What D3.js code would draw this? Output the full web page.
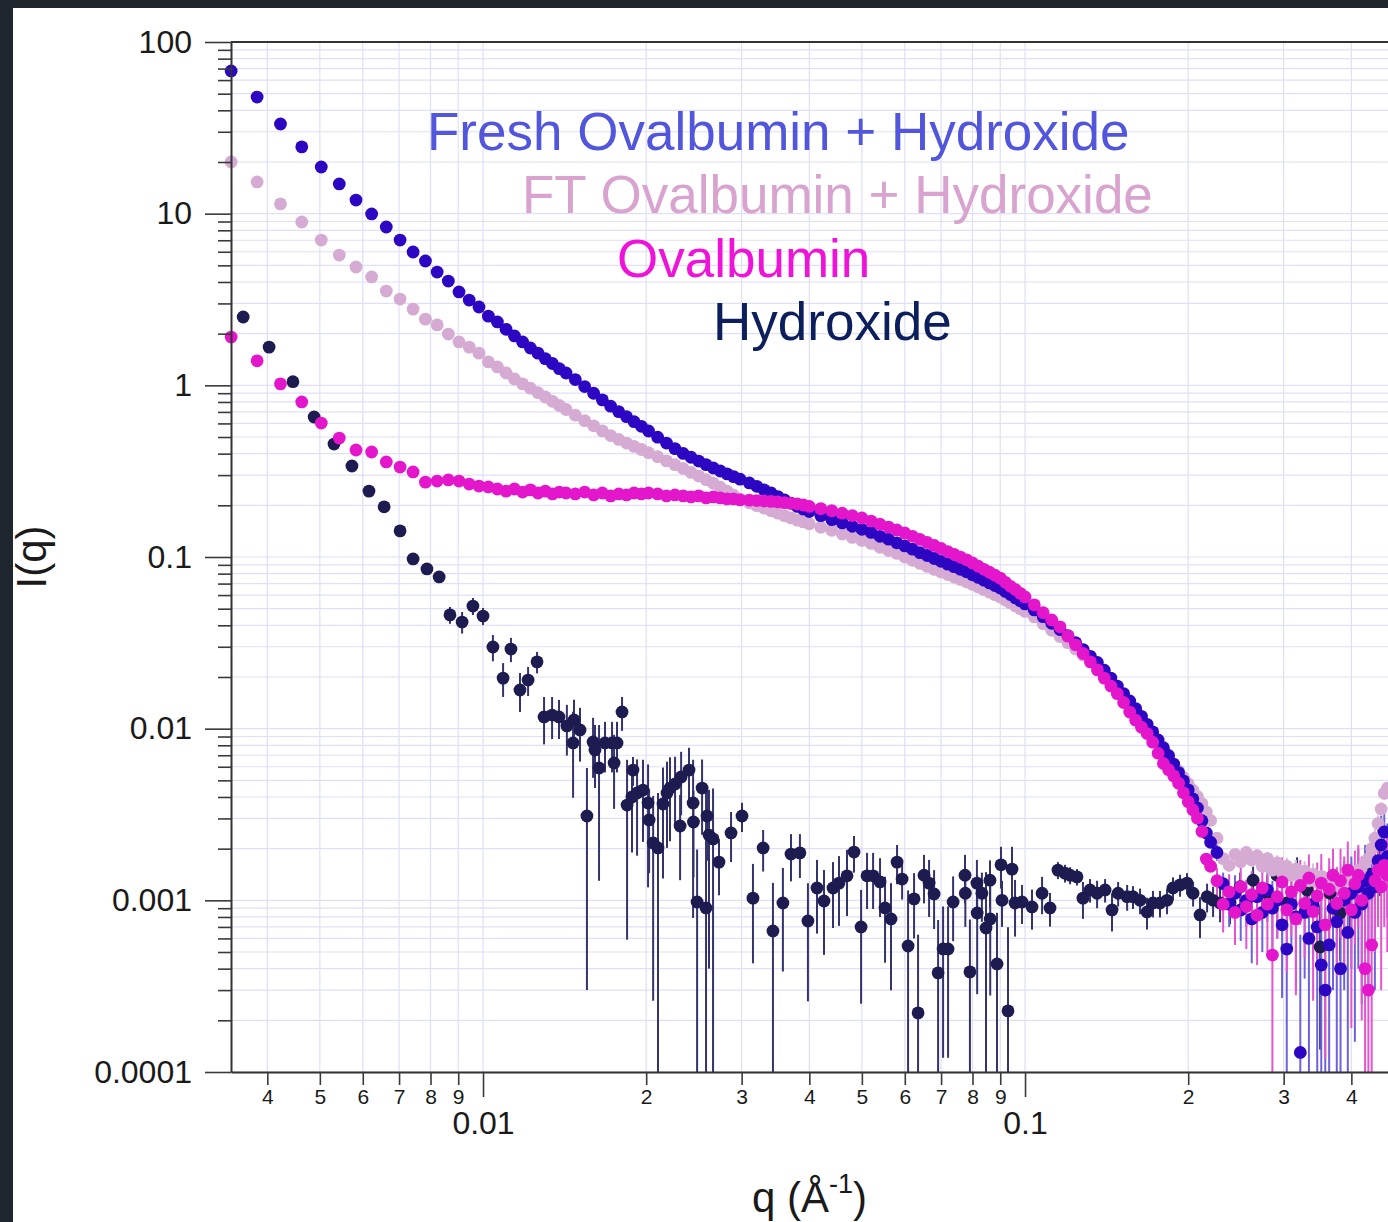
<!DOCTYPE html>
<html>
<head>
<meta charset="utf-8">
<script src="https://cdn.jsdelivr.net/npm/d3@7"></script>
<style>
  body { margin: 0; background: #1f262e; }
  svg { display: block; }
</style>
</head>
<body>
<svg id="chart" width="1388" height="1222"></svg>
<script>
// q grid shared by the three protein curves (1/Angstrom)
const qGrid = [
  0.00343, 0.00383, 0.00423, 0.00463, 0.00503, 0.00543, 0.00583, 0.00623, 0.00663, 0.00703,
  0.00743, 0.00783, 0.00823, 0.00863, 0.00903, 0.00943, 0.00983, 0.01023, 0.01063, 0.01103,
  0.01143, 0.01183, 0.01223, 0.01263, 0.01303, 0.01343, 0.01383, 0.01423,
  0.0148, 0.0154, 0.0160, 0.0166, 0.0172, 0.0178, 0.0184, 0.0190, 0.0196, 0.0202,
  0.0210, 0.0218, 0.0226, 0.0234, 0.0242, 0.0250, 0.0258, 0.0266, 0.0274, 0.0282, 0.0290, 0.0298,
  0.031, 0.032, 0.033, 0.034, 0.035, 0.036, 0.037, 0.038, 0.039, 0.040,
  0.042, 0.044, 0.046, 0.048, 0.050, 0.052, 0.054, 0.056, 0.058, 0.060,
  0.062, 0.064, 0.066, 0.068, 0.070, 0.072, 0.074, 0.076, 0.078, 0.080,
  0.082, 0.084, 0.086, 0.088, 0.090, 0.092, 0.094, 0.096, 0.098, 0.100,
  0.104, 0.108, 0.112, 0.116, 0.120, 0.124, 0.128, 0.132, 0.136, 0.140,
  0.144, 0.148, 0.152, 0.156, 0.160, 0.164, 0.168, 0.172, 0.176, 0.180,
  0.184, 0.188, 0.192, 0.196, 0.200, 0.204, 0.208, 0.212, 0.216, 0.220,
  0.226, 0.232, 0.238, 0.244, 0.250, 0.256, 0.262, 0.268, 0.274, 0.280,
  0.286, 0.292, 0.298, 0.304, 0.310, 0.316, 0.322, 0.328, 0.334, 0.340,
  0.346, 0.352, 0.358, 0.364, 0.370, 0.376, 0.382, 0.388, 0.394, 0.400,
  0.406, 0.412, 0.418, 0.424, 0.430, 0.436, 0.442, 0.448, 0.454, 0.460, 0.466
];

const freshI = [
  67.8, 47.8, 33.3, 24.5, 18.7, 14.9, 12.0, 9.96, 8.36, 7.02,
  5.98, 5.30, 4.57, 4.05, 3.50, 3.14, 2.86, 2.53, 2.34, 2.12,
  1.94, 1.79, 1.65, 1.54, 1.43, 1.34, 1.25, 1.18,
  1.08, 0.984, 0.899, 0.823, 0.756, 0.702, 0.657, 0.614, 0.577, 0.542,
  0.499, 0.461, 0.428, 0.401, 0.381, 0.362, 0.345, 0.330, 0.317, 0.305, 0.294, 0.284,
  0.270, 0.258, 0.246, 0.236, 0.225, 0.215, 0.206, 0.197, 0.190, 0.184,
  0.174, 0.165, 0.158, 0.151, 0.145, 0.139, 0.132, 0.127, 0.121, 0.116,
  0.111, 0.106, 0.102, 0.0980, 0.0944, 0.0909, 0.0878, 0.0848, 0.0820, 0.0788,
  0.0760, 0.0733, 0.0707, 0.0682, 0.0659, 0.0630, 0.0604, 0.0578, 0.0556, 0.0533,
  0.0492, 0.0449, 0.0411, 0.0378, 0.0348, 0.0317, 0.0289, 0.0264, 0.0243, 0.0219,
  0.0197, 0.0177, 0.0160, 0.0145, 0.0131, 0.0118, 0.0106, 0.00959, 0.00860, 0.00775,
  0.00698, 0.00622, 0.00555, 0.00497, 0.00440, 0.00390, 0.00345, 0.00291, 0.00247, 0.00218,
  0.0019, 0.00125, 0.00095, 0.0011, 0.00088, 0.001, 0.00078, 0.00105, 0.00085, 0.00115,
  0.0009, 0.001, 0.00072, 0.00052, 0.00095, 0.0008, 0.00013, 0.00085, 0.0006, 0.00095,
  0.0007, 0.00042, 0.0003, 0.00055, 0.0009, 0.00075, 0.0004, 0.001, 0.00065, 0.0011,
  0.00085, 0.0012, 0.00095, 0.0013, 0.0011, 0.0014, 0.0012, 0.0017, 0.0021, 0.0025, 0.0018
];

const ftI = [
  20.0, 15.3, 11.4, 8.94, 7.02, 5.74, 4.89, 4.28, 3.54, 3.18,
  2.78, 2.43, 2.25, 1.99, 1.79, 1.67, 1.54, 1.37, 1.28, 1.18,
  1.09, 1.02, 0.962, 0.906, 0.855, 0.807, 0.763, 0.723,
  0.670, 0.623, 0.581, 0.543, 0.510, 0.484, 0.461, 0.441, 0.423, 0.405,
  0.384, 0.363, 0.345, 0.328, 0.311, 0.296, 0.282, 0.269, 0.255, 0.242, 0.229, 0.218,
  0.207, 0.199, 0.193, 0.186, 0.180, 0.174, 0.169, 0.164, 0.160, 0.156,
  0.149, 0.143, 0.136, 0.130, 0.125, 0.120, 0.114, 0.109, 0.105, 0.100,
  0.0957, 0.0917, 0.0881, 0.0846, 0.0817, 0.0790, 0.0764, 0.0740, 0.0717, 0.0692,
  0.0668, 0.0645, 0.0624, 0.0603, 0.0584, 0.0561, 0.0540, 0.0519, 0.0500, 0.0482,
  0.0448, 0.0409, 0.0374, 0.0344, 0.0317, 0.0291, 0.0268, 0.0248, 0.0229, 0.0208,
  0.0187, 0.0169, 0.0153, 0.0139, 0.0126, 0.0113, 0.0102, 0.00918, 0.00829, 0.00751,
  0.00684, 0.00623, 0.00568, 0.00521, 0.00478, 0.00438, 0.00403, 0.00366, 0.00327, 0.00292,
  0.0023, 0.00175, 0.0016, 0.00185, 0.00168, 0.0019, 0.00172, 0.00182, 0.00158, 0.00175,
  0.0015, 0.00165, 0.00145, 0.00158, 0.0014, 0.00152, 0.00135, 0.00148, 0.0013, 0.00142,
  0.00128, 0.00138, 0.00125, 0.00135, 0.00122, 0.00132, 0.0012, 0.00135, 0.00128, 0.0014,
  0.00135, 0.0015, 0.00145, 0.00165, 0.00175, 0.002, 0.0023, 0.0028, 0.0034, 0.0042, 0.0045
];

const ovaI = [
  1.91, 1.39, 1.02, 0.800, 0.603, 0.493, 0.420, 0.409, 0.358, 0.334,
  0.313, 0.273, 0.277, 0.281, 0.277, 0.266, 0.259, 0.256, 0.249, 0.242,
  0.249, 0.239, 0.246, 0.236, 0.242, 0.233, 0.239, 0.236,
  0.233, 0.239, 0.230, 0.236, 0.227, 0.233, 0.230, 0.236, 0.233, 0.236,
  0.233, 0.227, 0.230, 0.227, 0.224, 0.227, 0.221, 0.224, 0.221, 0.218, 0.218, 0.215,
  0.2145, 0.2131, 0.2120, 0.2106, 0.2094, 0.2071, 0.2052, 0.2036, 0.2009, 0.1971,
  0.1914, 0.1859, 0.1800, 0.1743, 0.1687, 0.1620, 0.1553, 0.1493, 0.1438, 0.1380,
  0.1320, 0.1265, 0.1215, 0.1167, 0.1121, 0.1076, 0.1037, 0.0999, 0.0963, 0.0923,
  0.0884, 0.0848, 0.0815, 0.0783, 0.0753, 0.0712, 0.0675, 0.0646, 0.0614, 0.0585,
  0.0526, 0.0474, 0.0430, 0.0392, 0.0346, 0.0308, 0.0274, 0.0245, 0.0220, 0.0197,
  0.0177, 0.0160, 0.0142, 0.0125, 0.0112, 0.0102, 0.00936, 0.00834, 0.00720, 0.00627,
  0.00577, 0.00531, 0.00481, 0.00423, 0.00375, 0.00337, 0.00301, 0.00252, 0.00174, 0.00158,
  0.0013, 0.00095, 0.00112, 0.00085, 0.0012, 0.00092, 0.00108, 0.00082, 0.00118, 0.00095,
  0.00048, 0.00105, 0.00128, 0.00088, 0.00112, 0.00078, 0.00122, 0.00096, 0.00135, 0.00086,
  0.00106, 0.00126, 0.00072, 0.00116, 0.0014, 0.00096, 0.0013, 0.0011, 0.0015, 0.00088,
  0.00125, 0.0014, 0.001, 0.0004, 0.0003, 0.00055, 0.0013, 0.0015, 0.0012, 0.0016, 0.0014
];

// uncertainties of the last points of each protein curve (the noisy tail)
const freshTailErr = [
  0.0002, 0.0002, 0.00025, 0.0003, 0.0003, 0.0003, 0.00035, 0.0003, 0.00035, 0.0004,
  0.0004, 0.0004, 0.00045, 0.0005, 0.00045, 0.0005, 0.0005, 0.0005, 0.0006, 0.0005,
  0.0006, 0.0006, 0.0006, 0.0006, 0.0006, 0.0007, 0.0006, 0.0007, 0.0007, 0.0007,
  0.0007, 0.0008, 0.0007, 0.0008, 0.0008, 0.0008, 0.0009, 0.0009, 0.001, 0.001, 0.001
];
const ftTailErr = [
  0.00012, 0.00012, 0.00013, 0.00014, 0.00014, 0.00015, 0.00015, 0.00016, 0.00016, 0.00017,
  0.00017, 0.00018, 0.00018, 0.00019, 0.00019, 0.0002, 0.0002, 0.00021, 0.00021, 0.00022,
  0.00022, 0.00023, 0.00023, 0.00024, 0.00024, 0.00025, 0.00025, 0.00026, 0.00026, 0.00027,
  0.00027, 0.00028, 0.00028, 0.00029, 0.0003, 0.0003, 0.00031, 0.00032, 0.00033, 0.00034, 0.00035
];
const ovaTailErr = [
  0.00025, 0.0003, 0.0003, 0.0003, 0.00035, 0.0004, 0.0004, 0.0004, 0.0004, 0.00045,
  0.0004, 0.00045, 0.0005, 0.0005, 0.0005, 0.0005, 0.0005, 0.0005, 0.0005, 0.0006,
  0.0006, 0.0006, 0.0006, 0.0006, 0.0006, 0.0006, 0.0007, 0.0007, 0.0007, 0.0007,
  0.0007, 0.0007, 0.0008, 0.0009, 0.0009, 0.0009, 0.0008, 0.0008, 0.0009, 0.0009, 0.0009
];

// hydroxide only (own q grid, with error bars)
const hydroxideQ = [
  0.00361, 0.00403, 0.00446, 0.00488, 0.00531, 0.00573, 0.00616, 0.00657, 0.00703, 0.00743,
  0.00788, 0.00830, 0.00869, 0.00915, 0.00958, 0.0100, 0.01043, 0.01089, 0.01126, 0.01170,
  0.01211, 0.01258, 0.01296, 0.01341, 0.01381, 0.01428, 0.01466, 0.01472, 0.01510, 0.01555,
  0.01596, 0.01609, 0.01637, 0.01679, 0.01730, 0.01745, 0.01767, 0.01805, 0.01844, 0.01883,
  0.01891, 0.01924, 0.01973, 0.02016, 0.02025, 0.02060, 0.02103, 0.02148, 0.02185, 0.02213,
  0.02261, 0.02310, 0.02320, 0.02399, 0.02441, 0.02445, 0.02483, 0.02536, 0.02579, 0.02590,
  0.02612, 0.02657, 0.02725, 0.02868, 0.03005, 0.03148, 0.03287, 0.03427, 0.03575, 0.03700,
  0.03843, 0.03976, 0.04132, 0.04257, 0.04423, 0.04537, 0.04694, 0.04836, 0.04983, 0.05111,
  0.05244, 0.05401, 0.05517, 0.05659, 0.05806, 0.05932, 0.06084, 0.06241, 0.06348, 0.06511,
  0.06652, 0.06795, 0.06912, 0.07060, 0.07211, 0.07367, 0.07749, 0.07760, 0.07913, 0.08151,
  0.08160, 0.08325, 0.08472, 0.08617, 0.08625, 0.08878, 0.09030, 0.09068, 0.09302, 0.09462,
  0.09584, 0.09873, 0.1030, 0.1075, 0.1112, 0.1150, 0.1185, 0.1211, 0.1247, 0.1279,
  0.1318, 0.1358, 0.1405, 0.1447, 0.1485, 0.1543, 0.1582, 0.1630, 0.1679, 0.1722,
  0.1774, 0.1828, 0.1875, 0.1932, 0.1990, 0.2042, 0.2103, 0.2167, 0.2223, 0.2290,
  0.2389, 0.2494, 0.2635, 0.2796, 0.2917, 0.3044, 0.3176, 0.3314, 0.3503, 0.3653,
  0.3813, 0.3978, 0.4276, 0.4519
];
const hydroxideI = [
  2.50, 1.67, 1.05, 0.654, 0.455, 0.339, 0.242, 0.196, 0.142, 0.0974,
  0.0852, 0.0765, 0.0460, 0.0418, 0.0518, 0.0453, 0.0299, 0.0197, 0.0291, 0.0168,
  0.0192, 0.0245, 0.0117, 0.0120, 0.0117, 0.01037, 0.00826, 0.01124, 0.00983, 0.00310,
  0.00837, 0.00751, 0.00590, 0.00826, 0.00826, 0.00631, 0.00826, 0.01251, 0.00359, 0.00400,
  0.00574, 0.00422, 0.00439, 0.00369, 0.00294, 0.00216, 0.00202, 0.00364, 0.00422, 0.00451,
  0.00476, 0.00271, 0.00523, 0.00574, 0.00369, 0.00286, 0.000978, 0.00451, 0.000903, 0.00310,
  0.00240, 0.00228, 0.00167, 0.00247, 0.00310, 0.00103, 0.00202, 0.000663, 0.000965, 0.00186,
  0.00189, 0.000758, 0.00118, 0.000991, 0.00118, 0.00126, 0.00139, 0.00191, 0.000700, 0.00139,
  0.00139, 0.00128, 0.000903, 0.000779, 0.00167, 0.00133, 0.000542, 0.00102, 0.000221, 0.00140,
  0.00126, 0.00109, 0.000378, 0.000521, 0.000521, 0.000978, 0.00140, 0.00110, 0.000383, 0.00126,
  0.000844, 0.00110, 0.000690, 0.00131, 0.000779, 0.000426, 0.00161, 0.00100, 0.000227, 0.00152,
  0.000965, 0.000978, 0.000915, 0.00110, 0.000903, 0.00150, 0.00144, 0.00140, 0.00137, 0.00103,
  0.00115, 0.00110, 0.00115, 0.000879, 0.00110, 0.00105, 0.00105, 0.00100, 0.000856, 0.000965,
  0.000965, 0.00100, 0.00118, 0.00123, 0.00126, 0.00110, 0.000822, 0.00105, 0.00100, 0.000965,
  0.000965, 0.00120, 0.00131, 0.00110, 0.00140, 0.000965, 0.00146, 0.00115, 0.000535, 0.00110,
  0.000844, 0.00110, 0.00144, 0.00156
];
const hydroxideErr = [
  0.05, 0.04, 0.03, 0.02, 0.015, 0.012, 0.01, 0.009, 0.008, 0.007,
  0.006, 0.006, 0.0052, 0.0060, 0.0059, 0.0052, 0.0052, 0.0044, 0.0047, 0.0043,
  0.0037, 0.0035, 0.0036, 0.0033, 0.0030, 0.0034, 0.0043, 0.0035, 0.0034, 0.0028,
  0.0032, 0.0030, 0.0046, 0.0027, 0.0027, 0.0029, 0.0027, 0.0028, 0.0030, 0.0021,
  0.0011, 0.0024, 0.0022, 0.0025, 0.0015, 0.0019, 0.0022, 0.0023, 0.0022, 0.0023,
  0.0021, 0.0014, 0.0021, 0.0020, 0.0029, 0.0015, 0.0010, 0.0021, 0.0037, 0.0014,
  0.0020, 0.0022, 0.0006, 0.0008, 0.0006, 0.0006, 0.00055, 0.0006, 0.00058, 0.00057,
  0.00054, 0.0005, 0.00054, 0.00051, 0.00049, 0.00055, 0.00058, 0.00046, 0.00045, 0.0005,
  0.0005, 0.00048, 0.00047, 0.00048, 0.00043, 0.00032, 0.0006, 0.00042, 0.00041, 0.00044,
  0.00046, 0.00041, 0.00039, 0.0004, 0.0004, 0.0004, 0.00044, 0.0004, 0.00039, 0.00046,
  0.00056, 0.00035, 0.00077, 0.0004, 0.0005, 0.00042, 0.00044, 0.0003, 0.00047, 0.00053,
  0.00035, 0.00025, 0.00024, 0.00027, 0.0002, 0.00017, 0.00017, 0.00016, 0.00015, 0.00025,
  0.00018, 0.0002, 0.00018, 0.00022, 0.00018, 0.00018, 0.00016, 0.00017, 0.00018, 0.00017,
  0.00017, 0.00017, 0.00018, 0.00018, 0.00018, 0.00018, 0.00022, 0.0002, 0.0002, 0.00022,
  0.00024, 0.00025, 0.00026, 0.00028, 0.0003, 0.0003, 0.00032, 0.00034, 0.0004, 0.0004,
  0.0004, 0.0004, 0.0004, 0.0005
];

const seriesNames = ["Fresh Ovalbumin + Hydroxide", "FT Ovalbumin + Hydroxide", "Ovalbumin", "Hydroxide"];

const yMajorTicks = [100, 10, 1, 0.1, 0.01, 0.001, 0.0001];
const yMajorLabels = ["100", "10", "1", "0.1", "0.01", "0.001", "0.0001"];
const xMajorTicks = [0.01, 0.1];
const xMajorLabels = ["0.01", "0.1"];
const xMinorTicks = [0.004, 0.005, 0.006, 0.007, 0.008, 0.009, 0.02, 0.03, 0.04, 0.05, 0.06, 0.07, 0.08, 0.09, 0.2, 0.3, 0.4];
const xMinorLabels = ["4", "5", "6", "7", "8", "9", "2", "3", "4", "5", "6", "7", "8", "9", "2", "3", "4"];

const font = "'Liberation Sans', Arial, Helvetica, sans-serif";

const svg = d3.select("#chart");

const x = d3.scaleLog().domain([0.003428, 0.4918]).range([231, 1400]);
const y = d3.scaleLog().domain([0.0001, 100]).range([1072, 42]);

const [x0, x1] = x.range();
const [yBottom, yTop] = y.range();

// white panel on the dark page
svg.append("rect")
    .attr("x", 13).attr("y", 8)
    .attr("width", 1388 - 13).attr("height", 1222 - 8)
    .attr("fill", "#ffffff");

svg.append("defs").append("clipPath").attr("id", "plotClip")
    .append("rect")
    .attr("x", x0).attr("y", yTop)
    .attr("width", x1 - x0).attr("height", yBottom - yTop);

// grid
const yGrid = y.ticks();
const xGrid = xMinorTicks.concat(xMajorTicks);
const grid = svg.append("g").attr("class", "grid");
grid.selectAll("line.h")
    .data(yGrid)
    .enter().append("line")
    .attr("class", "h")
    .attr("x1", x0).attr("x2", x1)
    .attr("y1", d => y(d)).attr("y2", d => y(d))
    .attr("stroke", "#dfdff5").attr("stroke-width", 1.2);
grid.selectAll("line.v")
    .data(xGrid)
    .enter().append("line")
    .attr("class", "v")
    .attr("x1", d => x(d)).attr("x2", d => x(d))
    .attr("y1", yTop).attr("y2", yBottom)
    .attr("stroke", "#dfdff5").attr("stroke-width", 1.2);

// build point lists
function proteinPoints(values, tailErr) {
    const n = Math.min(qGrid.length, values.length);
    const offset = n - tailErr.length;
    const pts = [];
    for (let i = 0; i < n; i++) {
        pts.push({ q: qGrid[i], I: values[i], err: i >= offset ? tailErr[i - offset] : 0 });
    }
    return pts;
}
const hydroxidePts = hydroxideQ.map((q, i) => ({ q: q, I: hydroxideI[i], err: hydroxideErr[i] || 0 }));

const series = [
    { name: seriesNames[3], pts: hydroxidePts, dot: "#1d1b4f", bar: "#35336c", text: "#0c1f5c", tx: 713, ty: 340 },
    { name: seriesNames[1], pts: proteinPoints(ftI, ftTailErr), dot: "#d5abd3", bar: "#dcbadc", text: "#d9a3cf", tx: 522, ty: 213 },
    { name: seriesNames[0], pts: proteinPoints(freshI, freshTailErr), dot: "#2c06c2", bar: "#6d62dc", text: "#5156dc", tx: 427, ty: 150 },
    { name: seriesNames[2], pts: proteinPoints(ovaI, ovaTailErr), dot: "#e416cc", bar: "#e554cf", text: "#ef12d8", tx: 617, ty: 277 }
];

// error bars (clipped to the plot frame)
const bars = svg.append("g").attr("clip-path", "url(#plotClip)");
series.forEach(s => {
    bars.append("g")
        .selectAll("line")
        .data(s.pts.filter(p => p.err > 0))
        .enter().append("line")
        .attr("x1", d => x(d.q)).attr("x2", d => x(d.q))
        .attr("y1", d => y(d.I + d.err))
        .attr("y2", d => (d.I - d.err) > 1e-5 ? y(d.I - d.err) : yBottom + 5)
        .attr("stroke", s.bar)
        .attr("stroke-width", 2);
});

// dots
series.forEach(s => {
    svg.append("g")
        .selectAll("circle")
        .data(s.pts)
        .enter().append("circle")
        .attr("cx", d => x(d.q))
        .attr("cy", d => y(d.I))
        .attr("r", 6.4)
        .attr("fill", s.dot);
});

// axes
function styleAxis(g, size) {
    g.attr("font-family", font).attr("font-size", size);
    g.selectAll(".tick line").attr("stroke", "#3a3a3a").attr("stroke-width", 1.6);
    g.selectAll(".tick text").attr("fill", "#1a1a1a");
}

svg.append("g")
    .attr("transform", `translate(${x0},0)`)
    .call(d3.axisLeft(y).tickValues(y.ticks().filter(d => Math.abs(Math.log10(d) - Math.round(Math.log10(d))) > 1e-6))
        .tickSize(13).tickSizeOuter(0).tickFormat(""))
    .call(g => g.select(".domain").remove())
    .call(g => styleAxis(g, 10));

svg.append("g")
    .attr("transform", `translate(${x0},0)`)
    .call(d3.axisLeft(y).tickValues(yMajorTicks).tickSize(26).tickPadding(13).tickSizeOuter(0)
        .tickFormat(d => yMajorLabels[yMajorTicks.indexOf(d)]))
    .call(g => g.select(".domain").attr("stroke", "#333").attr("stroke-width", 2))
    .call(g => styleAxis(g, 32));

svg.append("g")
    .attr("transform", `translate(0,${yBottom})`)
    .call(d3.axisBottom(x).tickValues(xMinorTicks).tickSize(13).tickPadding(4).tickSizeOuter(0)
        .tickFormat(d => xMinorLabels[xMinorTicks.indexOf(d)]))
    .call(g => g.select(".domain").attr("stroke", "#333").attr("stroke-width", 2))
    .call(g => styleAxis(g, 21));

svg.append("g")
    .attr("transform", `translate(0,${yBottom})`)
    .call(d3.axisBottom(x).tickValues(xMajorTicks).tickSize(25).tickPadding(14).tickSizeOuter(0)
        .tickFormat(d => xMajorLabels[xMajorTicks.indexOf(d)]))
    .call(g => g.select(".domain").remove())
    .call(g => styleAxis(g, 32));

// top frame line
svg.append("line")
    .attr("x1", x0).attr("x2", x1)
    .attr("y1", yTop).attr("y2", yTop)
    .attr("stroke", "#333").attr("stroke-width", 2);

// axis titles
svg.append("text")
    .attr("transform", "translate(46,557) rotate(-90)")
    .attr("text-anchor", "middle")
    .attr("font-family", font)
    .attr("font-size", 42)
    .attr("fill", "#1a1a1a")
    .text("I(q)");

const xTitle = svg.append("text")
    .attr("x", 752).attr("y", 1212)
    .attr("font-family", font)
    .attr("font-size", 42)
    .attr("fill", "#1a1a1a");
xTitle.append("tspan").text("q (Å");
xTitle.append("tspan").attr("font-size", 27).attr("dy", -19).text("-1");
xTitle.append("tspan").attr("dy", 19).text(")");

// series labels
series.forEach(s => {
    svg.append("text")
        .attr("x", s.tx).attr("y", s.ty)
        .attr("font-family", font)
        .attr("font-size", 53)
        .attr("fill", s.text)
        .text(s.name);
});
</script>
</body>
</html>
